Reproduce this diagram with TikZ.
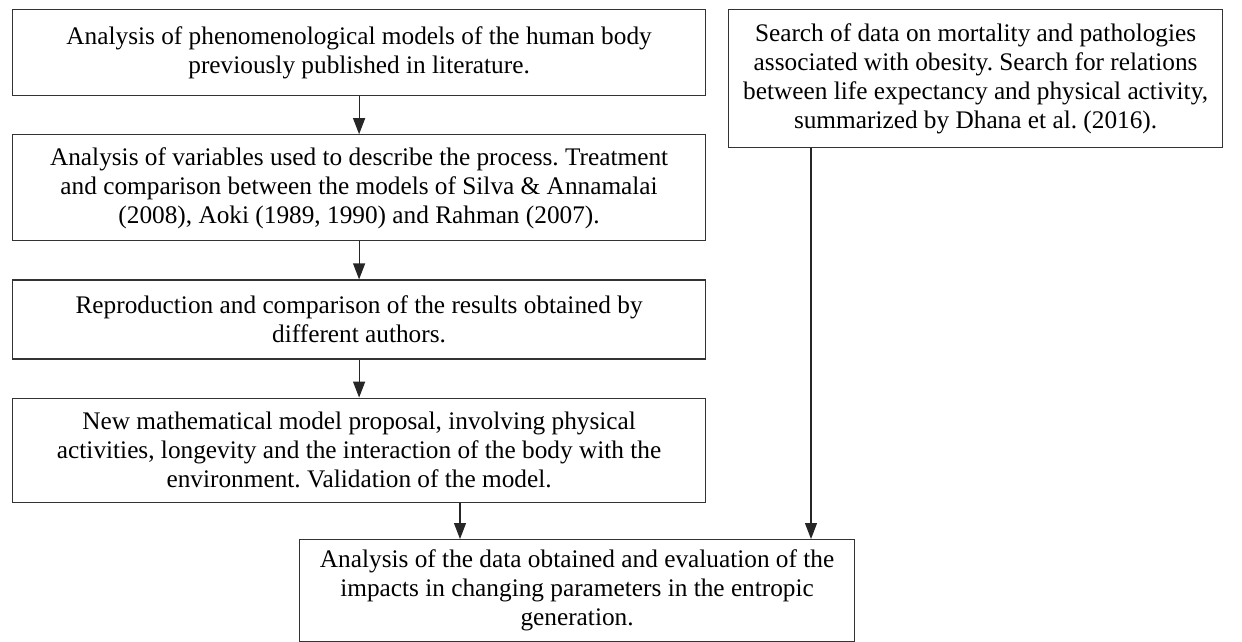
\documentclass[tikz,border=0pt]{standalone}
\usepackage{fontspec}
\setmainfont{Liberation Serif}
\usetikzlibrary{arrows.meta, positioning}
\frenchspacing

\begin{document}
\begin{tikzpicture}[
    x=0.5pt, y=-0.5pt,
    node distance=19pt and 19pt,
    block/.style={rectangle, draw=black!80, line width=0.6pt, align=center, minimum width=346.5pt, inner sep=0pt, font=\fontsize{12.65pt}{14.5pt}\selectfont},
    arrow/.style={draw=black!85, line width=0.6pt, -{Triangle[length=8pt, width=6pt]}}
]
    \useasboundingbox (0,0) rectangle (1242,642);

    \node[block, anchor=north west, minimum height=43pt] (lit) at (12,9) {Analysis of phenomenological models of the human body\\ previously published in literature.};
    \node[block, below=of lit, minimum height=53pt] (vars) {Analysis of variables used to describe the process. Treatment\\ and comparison between the models of Silva \& Annamalai\\ (2008), Aoki (1989, 1990) and Rahman (2007).};
    \node[block, below=of vars, minimum height=39.5pt] (repro) {Reproduction and comparison of the results obtained by\\ different authors.};
    \node[block, below=of repro, minimum height=52pt] (model) {New mathematical model proposal, involving physical\\ activities, longevity and the interaction of the body with the\\ environment. Validation of the model.};

    \node[block, anchor=north west, minimum width=247pt, minimum height=69pt] (search) at (728,9) {Search of data on mortality and pathologies\\ associated with obesity. Search for relations\\ between life expectancy and physical activity,\\ summarized by Dhana et al. (2016).};
    \node[block, anchor=north west, minimum width=277.5pt, minimum height=51pt] (result) at (299,539) {Analysis of the data obtained and evaluation of the\\ impacts in changing parameters in the entropic\\ generation.};

    \coordinate (m4) at (460,0);
    \coordinate (m5) at (811,0);

    \draw[arrow] (lit) -- (vars);
    \draw[arrow] (vars) -- (repro);
    \draw[arrow] (repro) -- (model);
    \draw[arrow] (model.south -| m4) -- (result.north -| m4);
    \draw[arrow] (search.south -| m5) -- (result.north -| m5);

\end{tikzpicture}
\end{document}
